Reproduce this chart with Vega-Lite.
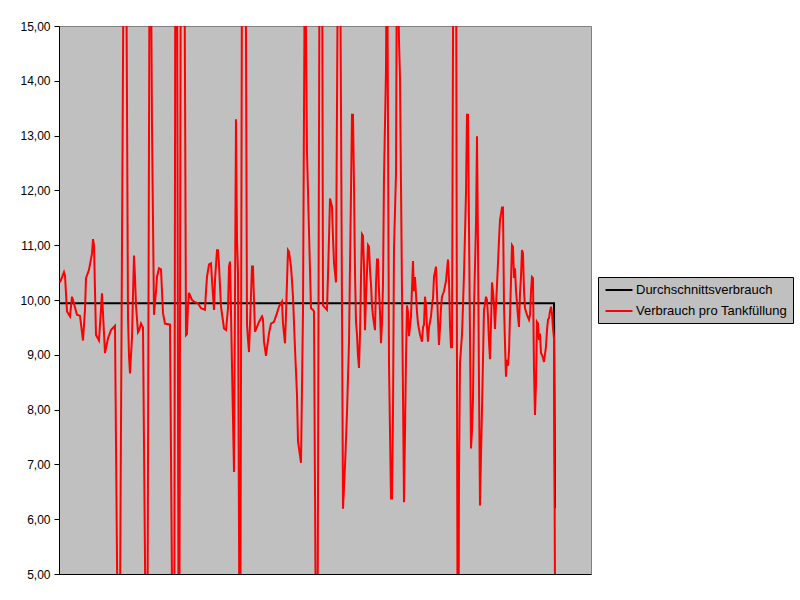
{
  "$schema": "https://vega.github.io/schema/vega-lite/v6.json",
  "width": 532,
  "height": 548,
  "autosize": "none",
  "padding": {"left": 59, "top": 26, "right": 209, "bottom": 26},
  "background": "white",
  "config": {
    "view": {"fill": "#c0c0c0", "stroke": "#808080", "strokeWidth": 1},
    "font": "Liberation Sans"
  },
  "datasets": {
    "verbrauch": [
      {"n":0,"v":10.32},{"n":4,"v":10.51},{"n":5,"v":10.45},{"n":7,"v":9.79},{"n":10,"v":9.70},{"n":12,"v":10.06},{"n":13,"v":10.0},{"n":17,"v":9.73},{"n":20,"v":9.71},{"n":23,"v":9.26},{"n":25,"v":9.82},{"n":26,"v":10.40},{"n":29,"v":10.55},{"n":32,"v":10.85},{"n":33,"v":11.11},{"n":34,"v":11.0},{"n":36,"v":9.36},{"n":39,"v":9.26},{"n":42,"v":10.12},{"n":45,"v":9.03},{"n":48,"v":9.30},{"n":51,"v":9.45},{"n":55,"v":9.53},{"n":59,"v":1.0},{"n":65,"v":21.0},{"n":67,"v":13.6},{"n":68,"v":9.67},{"n":69,"v":8.98},{"n":70,"v":8.66},{"n":72,"v":9.31},{"n":73,"v":10.09},{"n":74,"v":10.81},{"n":75,"v":10.42},{"n":76,"v":9.90},{"n":78,"v":9.41},{"n":79,"v":9.44},{"n":81,"v":9.57},{"n":83,"v":9.50},{"n":87,"v":1.0},{"n":90,"v":19.0},{"n":92,"v":13.19},{"n":94,"v":9.73},{"n":96,"v":10.16},{"n":97,"v":10.42},{"n":99,"v":10.58},{"n":101,"v":10.56},{"n":102,"v":10.16},{"n":103,"v":9.76},{"n":105,"v":9.57},{"n":110,"v":9.55},{"n":114,"v":0},{"n":116,"v":25},{"n":119,"v":0},{"n":122,"v":28},{"n":126,"v":9.36},{"n":127,"v":9.38},{"n":128,"v":9.90},{"n":129,"v":10.13},{"n":132,"v":10.0},{"n":135,"v":9.96},{"n":138,"v":9.94},{"n":141,"v":9.85},{"n":145,"v":9.82},{"n":146,"v":10.16},{"n":147,"v":10.42},{"n":149,"v":10.65},{"n":151,"v":10.67},{"n":152,"v":10.36},{"n":154,"v":9.82},{"n":155,"v":10.36},{"n":157,"v":10.91},{"n":158,"v":10.91},{"n":159,"v":10.64},{"n":161,"v":9.88},{"n":164,"v":9.48},{"n":166,"v":9.45},{"n":168,"v":9.85},{"n":169,"v":10.61},{"n":170,"v":10.70},{"n":171,"v":9.78},{"n":172,"v":8.79},{"n":174,"v":6.86},{"n":176,"v":13.3},{"n":177,"v":11.1},{"n":178,"v":10.5},{"n":180,"v":1.0},{"n":183,"v":24},{"n":186,"v":14.8},{"n":187,"v":9.55},{"n":188,"v":9.28},{"n":189,"v":9.05},{"n":190,"v":9.55},{"n":192,"v":10.61},{"n":193,"v":10.61},{"n":194,"v":10.0},{"n":195,"v":9.42},{"n":197,"v":9.51},{"n":199,"v":9.60},{"n":202,"v":9.70},{"n":203,"v":9.65},{"n":204,"v":9.24},{"n":206,"v":8.98},{"n":207,"v":9.12},{"n":209,"v":9.39},{"n":211,"v":9.57},{"n":214,"v":9.60},{"n":217,"v":9.76},{"n":219,"v":9.88},{"n":222,"v":9.97},{"n":223,"v":9.57},{"n":225,"v":9.21},{"n":226,"v":9.73},{"n":228,"v":10.91},{"n":229,"v":10.88},{"n":231,"v":10.61},{"n":232,"v":10.35},{"n":233,"v":10.06},{"n":235,"v":9.11},{"n":237,"v":8.27},{"n":238,"v":7.42},{"n":239,"v":7.29},{"n":241,"v":7.03},{"n":243,"v":9.8},{"n":245,"v":17},{"n":247,"v":12.7},{"n":249,"v":11.26},{"n":250,"v":10.55},{"n":251,"v":9.85},{"n":253,"v":9.82},{"n":254,"v":9.79},{"n":257,"v":0},{"n":261,"v":26},{"n":263,"v":9.9},{"n":264,"v":9.88},{"n":267,"v":9.82},{"n":268,"v":10.45},{"n":269,"v":11.13},{"n":270,"v":11.85},{"n":271,"v":11.78},{"n":272,"v":11.70},{"n":273,"v":11.13},{"n":274,"v":10.68},{"n":276,"v":10.32},{"n":279,"v":20},{"n":281,"v":13.49},{"n":282,"v":9.85},{"n":283,"v":6.19},{"n":285,"v":6.97},{"n":287,"v":7.94},{"n":288,"v":8.59},{"n":289,"v":9.21},{"n":290,"v":10.61},{"n":291,"v":11.98},{"n":292,"v":13.38},{"n":293,"v":13.38},{"n":294,"v":12.11},{"n":295,"v":10.5},{"n":296,"v":9.60},{"n":297,"v":9.37},{"n":298,"v":8.98},{"n":299,"v":8.76},{"n":300,"v":9.37},{"n":301,"v":10.42},{"n":302,"v":11.20},{"n":303,"v":11.17},{"n":304,"v":10.61},{"n":305,"v":9.45},{"n":306,"v":10.03},{"n":307,"v":10.52},{"n":308,"v":11.0},{"n":309,"v":10.97},{"n":310,"v":10.55},{"n":311,"v":10.29},{"n":312,"v":9.90},{"n":313,"v":9.70},{"n":315,"v":9.45},{"n":316,"v":10.29},{"n":317,"v":10.74},{"n":318,"v":10.74},{"n":319,"v":10.16},{"n":320,"v":9.78},{"n":321,"v":9.21},{"n":322,"v":9.57},{"n":323,"v":10.29},{"n":324,"v":12.24},{"n":326,"v":14.2},{"n":327,"v":17.5},{"n":329,"v":8.85},{"n":331,"v":6.38},{"n":332,"v":6.38},{"n":333,"v":7.94},{"n":334,"v":10.94},{"n":336,"v":12.31},{"n":337,"v":17},{"n":339,"v":14.72},{"n":340,"v":14.07},{"n":341,"v":12.11},{"n":342,"v":10.16},{"n":343,"v":8.27},{"n":344,"v":6.31},{"n":345,"v":7.55},{"n":346,"v":8.94},{"n":347,"v":9.90},{"n":348,"v":9.78},{"n":349,"v":9.34},{"n":351,"v":9.70},{"n":352,"v":10.22},{"n":353,"v":10.71},{"n":354,"v":10.16},{"n":355,"v":10.42},{"n":356,"v":10.10},{"n":357,"v":9.78},{"n":358,"v":9.57},{"n":360,"v":9.37},{"n":362,"v":9.24},{"n":363,"v":9.50},{"n":364,"v":9.55},{"n":365,"v":10.06},{"n":366,"v":9.9},{"n":367,"v":9.50},{"n":368,"v":9.24},{"n":369,"v":9.5},{"n":371,"v":9.70},{"n":372,"v":9.90},{"n":373,"v":10.03},{"n":374,"v":10.42},{"n":376,"v":10.61},{"n":377,"v":10.13},{"n":378,"v":9.63},{"n":379,"v":9.18},{"n":380,"v":9.50},{"n":381,"v":9.85},{"n":382,"v":10.06},{"n":384,"v":10.16},{"n":386,"v":10.35},{"n":387,"v":10.55},{"n":388,"v":10.74},{"n":389,"v":10.35},{"n":390,"v":9.55},{"n":391,"v":9.14},{"n":392,"v":9.14},{"n":395,"v":26},{"n":398,"v":0},{"n":399,"v":6.83},{"n":400,"v":8.85},{"n":402,"v":9.37},{"n":403,"v":9.90},{"n":404,"v":10.48},{"n":405,"v":11.20},{"n":406,"v":11.95},{"n":407,"v":13.38},{"n":408,"v":13.38},{"n":409,"v":11.33},{"n":410,"v":9.34},{"n":411,"v":7.29},{"n":412,"v":7.61},{"n":413,"v":8.20},{"n":414,"v":9.85},{"n":416,"v":11.39},{"n":417,"v":12.99},{"n":418,"v":11.0},{"n":419,"v":8.47},{"n":420,"v":6.25},{"n":421,"v":7.16},{"n":422,"v":8.0},{"n":423,"v":8.92},{"n":424,"v":9.82},{"n":425,"v":9.93},{"n":426,"v":10.06},{"n":427,"v":10.0},{"n":428,"v":9.70},{"n":429,"v":9.24},{"n":430,"v":8.92},{"n":431,"v":9.57},{"n":432,"v":10.32},{"n":433,"v":10.16},{"n":434,"v":9.90},{"n":435,"v":9.47},{"n":436,"v":9.90},{"n":438,"v":10.67},{"n":439,"v":11.10},{"n":440,"v":11.46},{"n":442,"v":11.69},{"n":443,"v":11.69},{"n":444,"v":9.9},{"n":445,"v":9.2},{"n":446,"v":8.60},{"n":447,"v":8.91},{"n":448,"v":8.80},{"n":449,"v":9.06},{"n":450,"v":9.70},{"n":451,"v":10.36},{"n":452,"v":11.0},{"n":453,"v":10.97},{"n":454,"v":10.40},{"n":455,"v":10.58},{"n":456,"v":10.18},{"n":457,"v":9.94},{"n":458,"v":9.70},{"n":459,"v":9.51},{"n":460,"v":10.12},{"n":461,"v":10.43},{"n":462,"v":10.91},{"n":463,"v":10.85},{"n":464,"v":10.18},{"n":465,"v":9.85},{"n":466,"v":9.79},{"n":467,"v":9.73},{"n":469,"v":9.64},{"n":470,"v":9.73},{"n":471,"v":10.15},{"n":472,"v":10.42},{"n":473,"v":10.40},{"n":474,"v":8.72},{"n":475,"v":7.90},{"n":476,"v":8.48},{"n":477,"v":9.60},{"n":478,"v":9.57},{"n":479,"v":9.27},{"n":480,"v":9.39},{"n":481,"v":9.03},{"n":482,"v":9.0},{"n":483,"v":8.94},{"n":484,"v":8.87},{"n":486,"v":9.15},{"n":487,"v":9.45},{"n":488,"v":9.64},{"n":489,"v":9.67},{"n":490,"v":9.79},{"n":491,"v":9.88},{"n":492,"v":9.76},{"n":493,"v":9.48},{"n":494,"v":9.30},{"n":496,"v":0}
    ],
    "schnitt": [
      {"n":0,"v":9.94},{"n":494,"v":9.94},{"n":495,"v":6.2}
    ]
  },
  "encoding": {
    "x": {
      "field": "n", "type": "quantitative",
      "scale": {"domain": [-1, 531], "nice": false, "zero": false},
      "axis": {"labels": false, "ticks": false, "title": null, "grid": false, "domainColor": "black", "domainWidth": 1}
    },
    "y": {
      "field": "v", "type": "quantitative",
      "scale": {"domain": [5, 15], "nice": false, "zero": false},
      "axis": {
        "values": [5,6,7,8,9,10,11,12,13,14,15],
        "labelExpr": "replace(format(datum.value, '.2f'), '.', ',')",
        "title": null, "grid": false,
        "tickColor": "black", "tickSize": 5, "tickWidth": 1,
        "domainColor": "black", "domainWidth": 1,
        "labelColor": "black", "labelFontSize": 12, "labelFont": "Liberation Sans",
        "labelPadding": 4, "labelOverlap": false
      }
    }
  },
  "layer": [
    {
      "data": {"name": "schnitt"},
      "mark": {"type": "line", "strokeWidth": 2, "clip": true},
      "encoding": {
        "color": {
          "datum": "Durchschnittsverbrauch",
          "type": "nominal",
          "scale": {"domain": ["Durchschnittsverbrauch", "Verbrauch pro Tankfüllung"], "range": ["#000000", "#ff0000"]},
          "legend": {
            "orient": "none", "legendX": 539, "legendY": 251,
            "title": null,
            "symbolType": "M-2,0H2", "symbolSize": 182, "symbolStrokeWidth": 2,
            "symbolOffset": 8,
            "labelFontSize": 13, "labelFont": "Liberation Sans", "labelColor": "black",
            "labelOffset": 9,
            "fillColor": "#c0c0c0", "strokeColor": "black",
            "padding": 5, "rowPadding": 6
          }
        }
      }
    },
    {
      "data": {"name": "verbrauch"},
      "mark": {"type": "line", "strokeWidth": 2, "clip": true},
      "encoding": {
        "color": {"datum": "Verbrauch pro Tankfüllung", "type": "nominal"}
      }
    }
  ]
}
